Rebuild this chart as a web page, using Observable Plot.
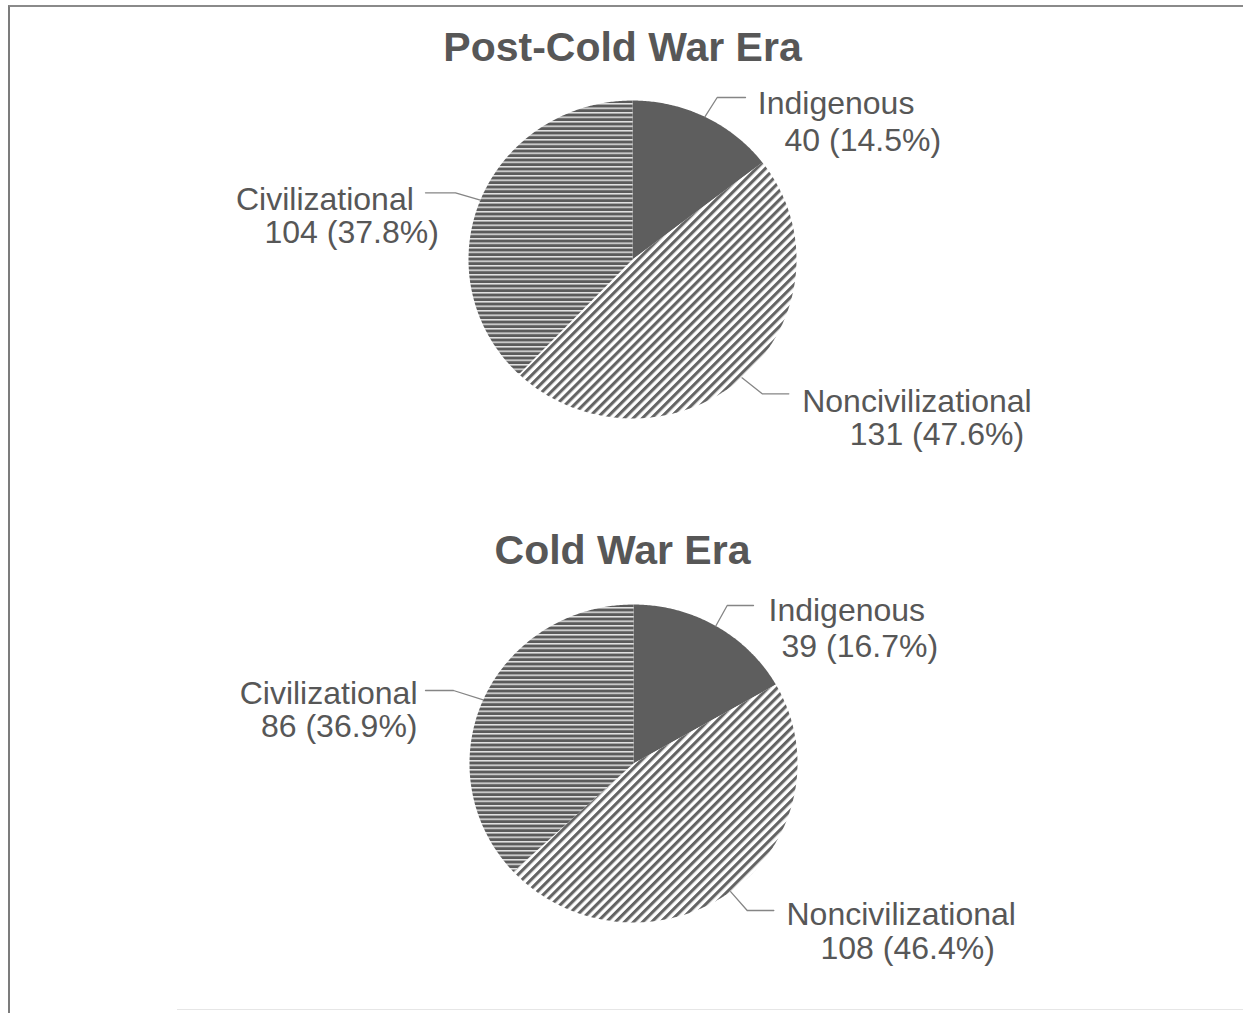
<!DOCTYPE html>
<html>
<head>
<meta charset="utf-8">
<script src="https://cdn.jsdelivr.net/npm/d3@7"></script>
<script src="https://cdn.jsdelivr.net/npm/@observablehq/plot@0.6"></script>
<style>
  body { margin: 0; background: #fff; }
  #page { position: relative; width: 1243px; height: 1013px; overflow: hidden; background: #fff;
          font-family: "Liberation Sans", Arial, sans-serif; }
  .frame { position: absolute; left: 8px; top: 5px; width: 1300px; height: 1100px;
           border-left: 2px solid #7c7c7c; border-top: 2px solid #8a8a8a; }
  .bottomline { position: absolute; left: 177px; top: 1009px; width: 1100px; height: 0;
                border-top: 1px solid #e6e6e6; }
  .title { position: absolute; left: 0; width: 1245px; text-align: center; font-weight: bold;
           font-size: 41px; line-height: 41px; color: #575757; }
  .chart { position: absolute; left: 0; width: 1243px; }
</style>
</head>
<body>
<svg width="0" height="0" style="position:absolute">
  <defs>
    <pattern id="hatchHoriz" patternUnits="userSpaceOnUse" width="10" height="4.5">
      <rect width="10" height="4.5" fill="#5b5b5b"></rect>
      <rect y="0" width="10" height="1.5" fill="#e4e4e4"></rect>
    </pattern>
    <pattern id="hatchDiag" patternUnits="userSpaceOnUse" width="6.4" height="10" patternTransform="rotate(45)">
      <rect width="6.4" height="10" fill="#ffffff"></rect>
      <rect width="3.1" height="10" fill="#646464"></rect>
    </pattern>
  </defs>
</svg>
<div id="page">
  <div class="frame"></div>
  <div class="bottomline"></div>
</div>
<script>
// ---------- data ----------
const categories = ["Indigenous", "Noncivilizational", "Civilizational"];
const eraTitles = ["Post-Cold War Era", "Cold War Era"];
const postColdWarCounts = [40, 131, 104];
const postColdWarPercents = [14.5, 47.6, 37.8];
const coldWarCounts = [39, 108, 86];
const coldWarPercents = [16.7, 46.4, 36.9];

// ---------- styling / layout ----------
const sliceFills = ["#5e5e5e", "url(#hatchDiag)", "url(#hatchHoriz)"];
const RX = 164, RY = 159;           // pie radii in pixels
const chartW = 1243, chartH = 420;
const pieCenters = [[632, 179], [633, 179]];
const chartTops = [80, 584];
const titleTops = [27, 530];
// label layout in pixel offsets from pie centre (y down)
const labelLayout = [
  [
    {elbow: [84.7, -162], end: [113, -162], l1: [125.3, -145.7, "start"], l2: [152, -109, "start"]},
    {elbow: [129.7, 134.3], end: [156.3, 134.3], l1: [169.7, 152, "start"], l2: [217.3, 185.5, "start"]},
    {elbow: [-177, -66.7], end: [-207, -66.7], l1: [-218.7, -49.7, "end"], l2: [-193.7, -16.5, "end"]}
  ],
  [
    {elbow: [93.7, -158], end: [120, -158], l1: [135, -143, "start"], l2: [148, -107, "start"]},
    {elbow: [113.7, 147], end: [140.3, 147], l1: [153, 161.5, "start"], l2: [187, 195, "start"]},
    {elbow: [-180, -73], end: [-208, -73], l1: [-216, -60, "end"], l2: [-216, -27, "end"]}
  ]
];
const textColor = "#575757";
const fontFamily = "Liberation Sans, Arial, sans-serif";
const fontSize = 32;

const page = document.getElementById("page");
const px2u = ([px, py]) => ({u: px / RX, v: -py / RY});

function drawEra(k, counts, percents) {
  const rows = categories.map((c, i) => ({category: c, count: counts[i], pct: percents[i], fill: sliceFills[i], i}));
  const arcs = d3.pie().sort(null).value(d => d.count)(rows);

  const slicePts = [];
  const leaderPts = [];
  const labels = [];
  arcs.forEach(a => {
    const d = a.data;
    slicePts.push({category: d.category, fill: d.fill, u: 0, v: 0});
    const n = Math.max(2, Math.ceil((a.endAngle - a.startAngle) / 0.01));
    for (let j = 0; j <= n; j++) {
      const t = a.startAngle + (a.endAngle - a.startAngle) * j / n;
      slicePts.push({category: d.category, fill: d.fill, u: Math.sin(t), v: Math.cos(t)});
    }
    slicePts.push({category: d.category, fill: d.fill, u: 0, v: 0});

    const mid = (a.startAngle + a.endAngle) / 2;
    const lay = labelLayout[k][d.i];
    leaderPts.push({category: d.category, u: Math.sin(mid), v: Math.cos(mid)});
    leaderPts.push({category: d.category, ...px2u(lay.elbow)});
    leaderPts.push({category: d.category, ...px2u(lay.end)});

    labels.push({text: d.category, anchor: lay.l1[2], ...px2u(lay.l1)});
    labels.push({text: `${d.count} (${d.pct.toFixed(1)}%)`, anchor: lay.l2[2], ...px2u(lay.l2)});
  });

  const [cx, cy] = pieCenters[k];
  const textOpts = (anchor) => ({
    x: "u", y: "v", text: "text", textAnchor: anchor, lineAnchor: "bottom",
    fill: textColor, fontSize, fontFamily
  });

  const chart = Plot.plot({
    width: chartW,
    height: chartH,
    marginTop: 0, marginRight: 0, marginBottom: 0, marginLeft: 0,
    x: {domain: [-1, 1], range: [cx - RX, cx + RX], axis: null},
    y: {domain: [-1, 1], range: [cy + RY, cy - RY], axis: null},
    color: {type: "identity"},
    style: {fontFamily, background: "transparent", overflow: "visible"},
    marks: [
      Plot.line(slicePts, {x: "u", y: "v", z: "category", fill: "fill", stroke: "none", curve: "linear"}),
      Plot.line(leaderPts, {x: "u", y: "v", z: "category", stroke: "#858585", strokeWidth: 1.3}),
      Plot.text(labels.filter(l => l.anchor === "start"), textOpts("start")),
      Plot.text(labels.filter(l => l.anchor === "end"), textOpts("end"))
    ]
  });

  const title = document.createElement("div");
  title.className = "title";
  title.style.top = titleTops[k] + "px";
  title.textContent = eraTitles[k];
  page.appendChild(title);

  const wrap = document.createElement("div");
  wrap.className = "chart";
  wrap.style.top = chartTops[k] + "px";
  wrap.appendChild(chart);
  page.appendChild(wrap);
}

drawEra(0, postColdWarCounts, postColdWarPercents);
drawEra(1, coldWarCounts, coldWarPercents);
</script>
</body>
</html>
